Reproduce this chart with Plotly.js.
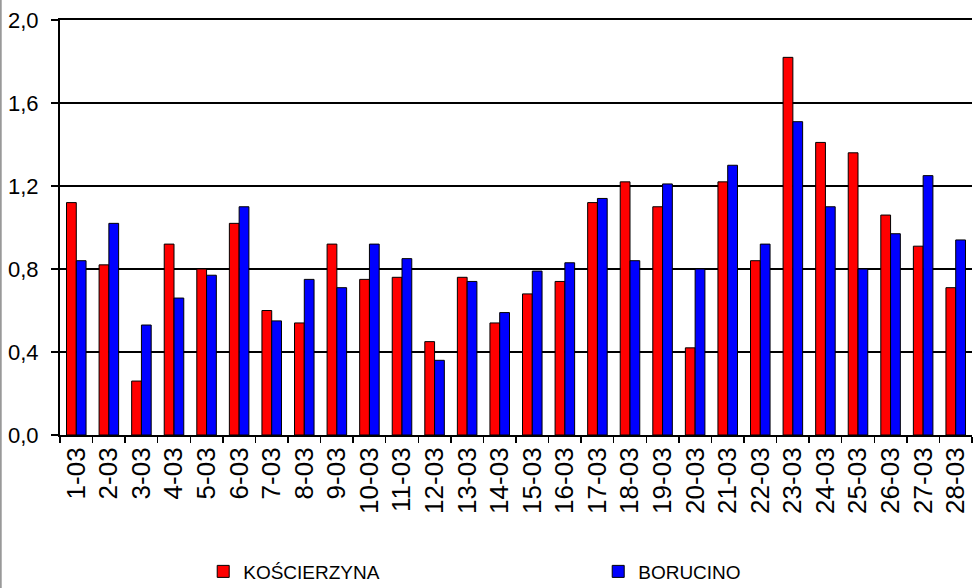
<!DOCTYPE html>
<html>
<head>
<meta charset="utf-8">
<script src="https://cdn.plot.ly/plotly-3.0.1.min.js"></script>
<style>html,body{margin:0;padding:0;background:#fff}#chart{width:977px;height:588px}</style>
</head>
<body>
<div id="chart"></div>
<script>
const categories = ["1-03","2-03","3-03","4-03","5-03","6-03","7-03","8-03","9-03","10-03","11-03","12-03","13-03","14-03","15-03","16-03","17-03","18-03","19-03","20-03","21-03","22-03","23-03","24-03","25-03","26-03","27-03","28-03"];
const koscierzyna = [1.12,0.82,0.26,0.92,0.80,1.02,0.60,0.54,0.92,0.75,0.76,0.45,0.76,0.54,0.68,0.74,1.12,1.22,1.10,0.42,1.22,0.84,1.82,1.41,1.36,1.06,0.91,0.71];
const borucino = [0.84,1.02,0.53,0.66,0.77,1.10,0.55,0.75,0.71,0.92,0.85,0.36,0.74,0.59,0.79,0.83,1.14,0.84,1.21,0.80,1.30,0.92,1.51,1.10,0.80,0.97,1.25,0.94];
const yTicks = [0,0.4,0.8,1.2,1.6,2.0];

const font = "Liberation Sans";
const traces = [
  {type:'bar', name:'KOŚCIERZYNA', x:categories, y:koscierzyna,
   marker:{color:'#ff0000', line:{color:'#000', width:1}}},
  {type:'bar', name:'BORUCINO', x:categories, y:borucino,
   marker:{color:'#0000ff', line:{color:'#000', width:1}}}
];
const layout = {
  width:977, height:588,
  margin:{l:60, r:5, t:20, b:153},
  paper_bgcolor:'#fff', plot_bgcolor:'#fff',
  font:{family:font, size:20, color:'#000'},
  separators:',.',
  barmode:'group', bargap:0.4, bargroupgap:0,
  showlegend:true,
  legend:{orientation:'h', xref:'container', yref:'container', x:0.208, y:0.028,
          xanchor:'left', yanchor:'middle', entrywidth:350, entrywidthmode:'pixels',
          font:{size:19, family:font}, itemwidth:30, traceorder:'normal'},
  xaxis:{type:'category', showline:true, linecolor:'#000', linewidth:2, mirror:true,
         ticks:'outside', tickson:'boundaries', ticklen:6, tickcolor:'#000', tickwidth:1.5,
         tickangle:-90, tickfont:{size:26, family:font}, showgrid:false, automargin:false},
  yaxis:{range:[0,2.0], tickvals:yTicks, tickformat:'.1f', showline:true, linecolor:'#000',
         linewidth:2, ticks:'outside', ticklen:7, tickcolor:'#000', tickwidth:1.5,
         ticklabelstandoff:8,
         showgrid:true, gridcolor:'#000', gridwidth:1.5, zeroline:false,
         tickfont:{size:22, family:font}, automargin:false},
  shapes:[{type:'line', xref:'paper', yref:'paper', x0:-0.065, x1:-0.065, y0:-0.4, y1:1.1,
           line:{color:'#999', width:2}}]
};
Plotly.newPlot('chart', traces, layout, {displayModeBar:false, staticPlot:true});
</script>
</body>
</html>
